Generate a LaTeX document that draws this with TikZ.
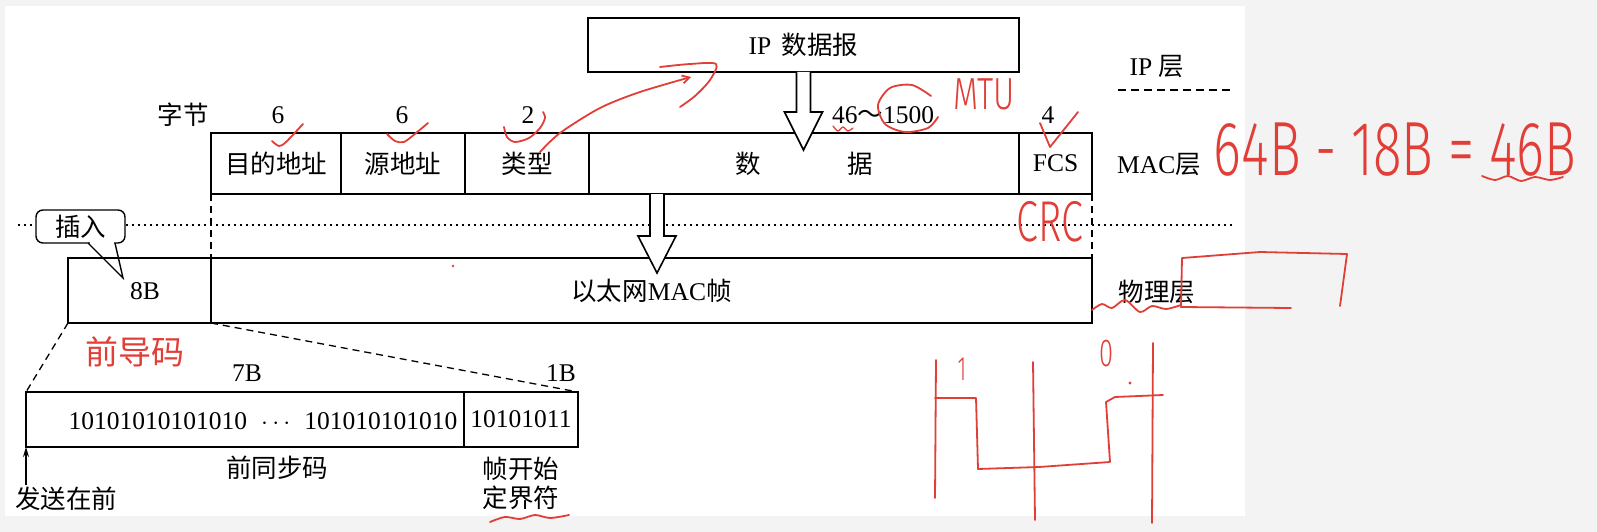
\documentclass[tikz,border=0pt]{standalone}
\usepackage{graphicx}
\usepackage{fontspec}
\setmainfont{Liberation Serif}
\newfontfamily\cjk{Noto Sans CJK SC}
\newfontfamily\hand{Fira Sans}[UprightFont={* Light}]
\usetikzlibrary{calc,arrows.meta}
\definecolor{ann}{RGB}{226,62,56}
\definecolor{bggray}{RGB}{243,243,243}
\begin{document}
\begin{tikzpicture}[x=1pt,y=-1pt,
  font=\fontsize{25.5}{30}\selectfont,
  field/.style={draw,line width=1.3pt,inner sep=0pt,outer sep=0pt,minimum height=#1},
  frame/.style={draw,line width=2.4pt,inner sep=0pt,outer sep=0pt,minimum height=#1},
  lbl/.style={inner sep=0pt},
  cjkf/.style={font=\cjk\fontsize{25.5}{30}\selectfont},
  hollow/.style={draw,line width=1.6pt,fill=white,line join=miter},
  zoomline/.style={line width=1.3pt,dash pattern=on 7pt off 5pt},
  hw/.style={draw=ann,line width=1.8pt,line cap=round,line join=round},
  hwtext/.style={text=ann,inner sep=0pt,font=\hand\fontsize{#1}{#1}\selectfont}]
\useasboundingbox (0,0) rectangle (1597,532);
\fill[bggray] (0,0) rectangle (1597,532);
\fill[white] (5,6) rectangle (1245,516);

% ---------------- IP layer
\node[frame=54pt,minimum width=431pt] (ip) at (803.5,45) {IP\hspace{4pt} {\cjk 数据报}};
\node[lbl] (iplayer) at (1157,67) {IP {\cjk 层}};
\draw[line width=1.4pt,dash pattern=on 8pt off 5pt] (1118,90) -- (1230,90);

% ---------------- MAC layer
\node[lbl,cjkf] (byte) at (183,115) {字节};
\node[lbl] (n1) at (278,115) {6};
\node[lbl] (n2) at (402,115) {6};
\node[lbl] (n3) at (528,115) {2};
\node[lbl] (n4) at (883,115) {46{\cjk ～}1500};
\node[lbl] (n5) at (1048,115) {4};

\node[field=61pt,minimum width=130pt,cjkf] (f1) at (276,163.5) {目的地址};
\node[field=61pt,minimum width=124pt,cjkf] (f2) at (403,163.5) {源地址};
\node[field=61pt,minimum width=124pt,cjkf] (f3) at (527,163.5) {类型};
\node[field=61pt,minimum width=430pt,cjkf] (f4) at (804,163.5) {数\hspace{86pt}据};
\node[field=61pt,minimum width=73pt] (f5) at (1055.5,163.5) {FCS};
\node[frame=61pt,minimum width=881pt] (mac) at (651.5,163.5) {};
\node[lbl] (maclayer) at (1159,165) {MAC{\cjk 层}};

% ---------------- dotted separator
\draw[line width=1.5pt,dash pattern=on 1.5pt off 4.5pt] (18,225) -- (1232,225);

% ---------------- physical layer
\node[field=65pt,minimum width=143pt] (p1) at (139.5,290.5) {};
\node[field=65pt,minimum width=881pt] (p2) at (651.5,290.5) {{\cjk 以太网}MAC{\cjk 帧}};
\node[frame=65pt,minimum width=1024pt] (phy) at (580,290.5) {};
\node[lbl] (eightb) at (145,291) {8B};
\node[lbl,cjkf] (phylayer) at (1157,292) {物理层};

\draw[zoomline] (mac.south west) -- (p2.north west);
\draw[zoomline] (mac.south east) -- (phy.north east);

% ---------------- hollow arrows
\draw[hollow] ($(ip.south)+(-7,0)$) -- ++(0,40) -- ++(-12,0) -- ($(ip.south)+(0,78)$)
   -- ($(ip.south)+(19,40)$) -- ++(-12,0) -- ($(ip.south)+(7,0)$);
\coordinate (a2) at ($(mac.south west)!0.5!(mac.south east)+(5.5,0)$);
\draw[hollow] ($(a2)+(-7,0)$) -- ++(0,42) -- ++(-12,0) -- ($(a2)+(0,79)$)
   -- ($(a2)+(19,42)$) -- ++(-12,0) -- ($(a2)+(7,0)$);

% ---------------- callout
\node[draw,line width=1.4pt,rounded corners=7pt,fill=white,minimum width=89pt,minimum height=33pt,inner sep=0pt,cjkf] (ins) at (80.5,226.5) {插入};
\fill[white] (89.5,240) rectangle (114,245.5);
\draw[line width=1.4pt] (88,243) -- (123,278) -- (115,243);

% ---------------- preamble
\node[field=55pt,minimum width=438pt] (q1) at (245,419.5) {};
\node[field=55pt,minimum width=114pt] (q2) at (521,419.5) {10101011};
\node[frame=55pt,minimum width=552pt] (pre) at (302,419.5) {};
\node[lbl] (bits) at (263,421) {10101010101010\hspace{14pt}$\cdots$\hspace{14pt}101010101010};
\node[lbl] (sevenb) at (247,373) {7B};
\node[lbl] (oneb) at (561,373) {1B};
\node[lbl,cjkf] (sync) at (277,468) {前同步码};
\node[lbl,cjkf,align=center] (sfd) at (521,483) {帧开始\\[-1pt]定界符};
\node[lbl,cjkf] (send) at (66,499) {发送在前};
\coordinate (sendtail) at (26,485);
\draw[line width=1.2pt,-{Stealth[length=10pt,width=6pt]}] (sendtail) -- (pre.south west);

\draw[zoomline] (phy.south west) -- (pre.north west);
\draw[zoomline] (p2.south west) -- (pre.north east);

% ---------------- handwritten annotations
\node[text=ann,inner sep=0pt,font=\cjk\fontsize{33}{36}\selectfont] (qdm) at (135,352) {前导码};
\node[hwtext=31] (mtu) at (984,94) {\scalebox{1.05}[1.45]{MTU}};
\node[hwtext=36] (crc) at (1050,222) {\scalebox{1.1}[1.6]{CRC}};
\node[hwtext=53] (calc) at (1395,150) {\scalebox{1}[1.45]{64B - 18B = 46B}};
\node[hwtext=26] (one) at (962,369) {\scalebox{0.8}[1.3]{1}};
\node[hwtext=30] (zero) at (1106,354) {\scalebox{0.85}[1.3]{0}};
\fill[ann] (1130,383) circle (1.6pt);
\fill[ann] (453,266) circle (1.4pt);

% check marks
\draw[hw] plot[smooth] coordinates {(272,141) (279,146) (286,142) (303,124)};
\draw[hw] plot[smooth] coordinates {(387,134) (395,141) (404,142) (416,133) (428,123)};
\draw[hw] plot[smooth] coordinates {(504,127) (507,137) (515,142) (529,138) (540,128) (545,118) (543,112)};
\draw[hw] (1040,123) -- (1050,147) -- (1078,112);
% curved arrow from type field
\draw[hw,-{Straight Barb[length=7pt,width=8pt]}] plot[smooth] coordinates {(540,152) (560,133) (600,108) (640,92) (691,77)};
\draw[hw] plot[smooth] coordinates {(660,67) (690,64) (716,64) (710,80) (695,96) (680,107)};
% MTU circle and underline
\draw[hw] plot[smooth] coordinates {(931,96) (912,85) (890,88) (878,105) (885,124) (905,132) (928,128) (938,117)};
\draw[hw,line width=1.3pt] plot[smooth] coordinates {(833,126) (838,131) (843,127) (848,131) (853,128)};
% underline 46B
\draw[hw] plot[smooth] coordinates {(1482,176) (1495,180) (1508,176) (1521,181) (1535,177) (1550,180) (1563,177)};
% underline sfd
\draw[hw] plot[smooth] coordinates {(490,522) (505,517) (520,519) (535,515) (550,518) (569,515)};
% squiggle and bracket near physical layer
\draw[hw] plot[smooth] coordinates {(1092,310) (1102,304) (1112,308) (1125,300) (1140,312) (1152,306) (1166,309) (1181,305)};
\draw[hw] (1291,308) -- (1181,307) -- (1182,258) -- (1260,252) -- (1347,254) -- (1340,306);
% square wave
\draw[hw] (936,360) -- (935,498);
\draw[hw] (1033,362) -- (1035,520);
\draw[hw] (1153,343) -- (1152,523);
\draw[hw] (935,398) -- (976,398) -- (978,469) -- (1039,467) -- (1110,462) -- (1106,402) -- (1115,397) -- (1163,395);
\end{tikzpicture}
\end{document}
